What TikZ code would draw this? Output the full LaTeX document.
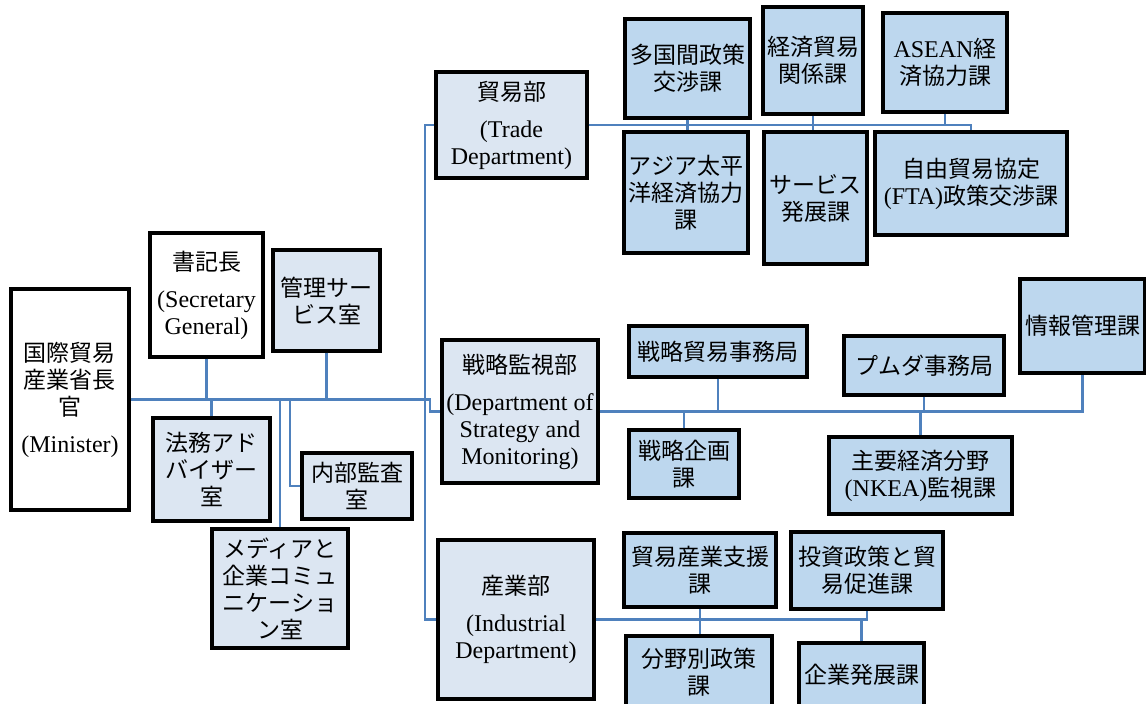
\documentclass[tikz,border=0pt]{standalone}
\usepackage{fontspec}
\setmainfont{Liberation Serif}
\newfontfamily\jpfont{Noto Sans CJK JP}
\usepackage{tikz}

\definecolor{linkblue}{HTML}{4F81BD}
\definecolor{paleblue}{HTML}{DCE6F2}
\definecolor{unitblue}{HTML}{BDD7EE}
\newcommand{\lat}[1]{{\rmfamily\fontsize{24}{27}\selectfont #1}}

\begin{document}
\begin{tikzpicture}[x=1pt, y=-1pt,
                    every node/.style={rectangle, draw=black, line width=3.2pt, inner sep=0pt, align=center,
                                       font=\jpfont\fontsize{23}{27}\selectfont},
                    head/.style={fill=white},
                    office/.style={fill=paleblue},
                    unit/.style={fill=unitblue},
                    link/.style={draw=linkblue, line width=2.8pt}]

                    \useasboundingbox (0,0) rectangle (1146,704);
                    \clip (0,0) rectangle (1146,704);

                    % Define nodes
                    \node[head, minimum width=118, minimum height=221] (minister) at (70,399.5) {国際貿易\\産業省長\\官\\[10pt]\lat{(Minister)}}; % Minister
                    \node[head, minimum width=113, minimum height=124] (secgen) at (206.5,295) {書記長\\[10pt]\lat{(Secretary}\\\lat{General)}}; % Secretary General
                    \node[office, minimum width=107, minimum height=101] (admin) at (326.5,300.5) {管理サー\\ビス室}; % above the line
                    \node[office, minimum width=117, minimum height=103] (legal) at (211.5,469.5) {法務アド\\バイザー\\室}; % below the line
                    \node[office, minimum width=110, minimum height=66] (audit) at (357,486) {内部監査\\室};
                    \node[office, minimum width=136, minimum height=119] (media) at (280,588.5) {メディアと\\企業コミュ\\ニケーショ\\ン室};

                    \node[office, minimum width=151, minimum height=106] (trade) at (511.5,125) {貿易部\\[10pt]\lat{(Trade}\\\lat{Department)}}; % Trade
                    \node[office, minimum width=156, minimum height=143] (strat) at (520,411.5) {戦略監視部\\[10pt]\lat{(Department of}\\\lat{Strategy and}\\\lat{Monitoring)}}; % Strategy
                    \node[office, minimum width=156, minimum height=159] (indus) at (516,619.5) {産業部\\[10pt]\lat{(Industrial}\\\lat{Department)}}; % Industrial

                    \node[unit, minimum width=125, minimum height=99] (multi) at (687.5,68.5) {多国間政策\\交渉課}; % Trade units
                    \node[unit, minimum width=100, minimum height=107] (econ) at (813,60.5) {経済貿易\\関係課};
                    \node[unit, minimum width=124, minimum height=99] (asean) at (945,62.5) {\lat{ASEAN}経\\済協力課};
                    \node[unit, minimum width=124, minimum height=121] (apec) at (686,192.5) {アジア太平\\洋経済協力\\課};
                    \node[unit, minimum width=103, minimum height=132] (service) at (815.5,198) {サービス\\発展課};
                    \node[unit, minimum width=192, minimum height=103] (fta) at (971,183.5) {自由貿易協定\\\lat{(FTA)}政策交渉課};

                    \node[unit, minimum width=178, minimum height=51] (sto) at (718,351.5) {戦略貿易事務局}; % Strategy units
                    \node[unit, minimum width=160, minimum height=59] (pemudah) at (924,365.5) {プムダ事務局};
                    \node[unit, minimum width=125, minimum height=94] (info) at (1082.5,326) {情報管理課};
                    \node[unit, minimum width=110, minimum height=68] (plan) at (684,464) {戦略企画\\課};
                    \node[unit, minimum width=183, minimum height=77] (nkea) at (920.5,475.5) {主要経済分野\\\lat{(NKEA)}監視課};

                    \node[unit, minimum width=152, minimum height=74] (tis) at (700,570) {貿易産業支援\\課}; % Industrial units
                    \node[unit, minimum width=152, minimum height=77] (invest) at (867,570.5) {投資政策と貿\\易促進課};
                    \node[unit, minimum width=146, minimum height=72] (sector) at (699,672) {分野別政策\\課};
                    \node[unit, minimum width=125, minimum height=64] (entdev) at (861.5,675) {企業発展課};

                    \coordinate (hub) at (430,399.5);
                    \coordinate (trunk) at (425,400);
                    \coordinate (auditjoin) at (290,399.5);

                    % Define edges
                    \draw[link] (minister.east) -- (hub) |- (strat.west);
                    \draw[link] (secgen.south) -- (secgen.south |- hub);
                    \draw[link] (admin.south) -- (admin.south |- hub);
                    \draw[link] (legal.north) -- (legal.north |- hub);
                    \draw[link] (media.north) -- (media.north |- hub);
                    \draw[link] (audit.west) -| (auditjoin);
                    \draw[link] (trade.west) -| (trunk) |- (indus.west);

                    \draw[link] (trade.east) -| (fta.north);
                    \draw[link] (multi.south) -- (multi.south |- apec.north);
                    \draw[link] (econ.south) -- (econ.south |- service.north);
                    \draw[link] (asean.south) -- (asean.south |- trade.east);

                    \draw[link] (strat.east) -| (info.south);
                    \draw[link] (sto.south) -- (sto.south |- strat.east);
                    \draw[link] (pemudah.south) -- (pemudah.south |- strat.east);
                    \draw[link] (plan.north) -- (plan.north |- strat.east);
                    \draw[link] (nkea.north) -- (nkea.north |- strat.east);

                    \draw[link] (indus.east) -| (invest.south);
                    \draw[link] (tis.south) -- (tis.south |- sector.north);
                    \draw[link] (entdev.north) -- (entdev.north |- indus.east);
                \end{tikzpicture}
\end{document}
